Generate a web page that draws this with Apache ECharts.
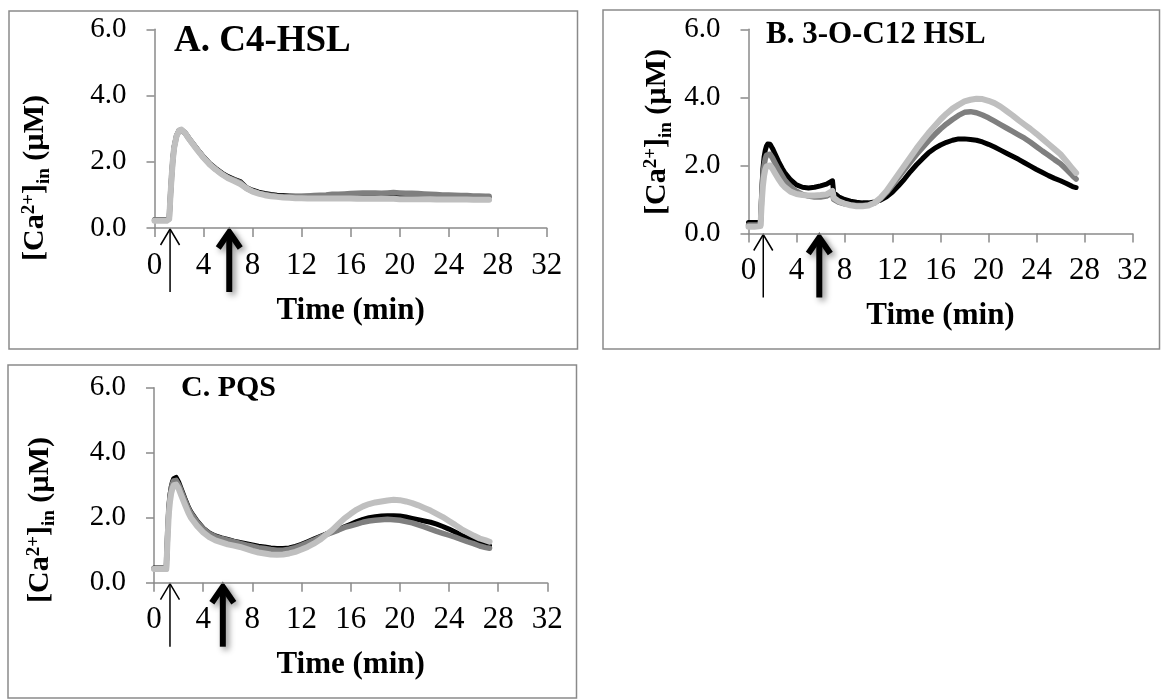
<!DOCTYPE html>
<html>
<head>
<meta charset="utf-8">
<script src="https://cdn.jsdelivr.net/npm/echarts@6/dist/echarts.min.js"></script>
<style>
  html, body { margin: 0; padding: 0; background: #ffffff; }
  #chart { width: 1161px; height: 700px; }
</style>
</head>
<body>
<div id="chart"></div>
<script>
// Sampling times (min) shared by every trace
const time = [0, 0.5, 1.0, 1.1, 1.2, 1.3, 1.4, 1.5, 1.6, 1.8,
  2.0, 2.2, 2.5, 2.8, 3.0, 3.5, 4.0, 4.5, 5.0, 5.5,
  6.0, 6.5, 7.0, 7.1, 7.5, 8.0, 8.5, 9.0, 9.5, 10,
  10.5, 11, 11.5, 12, 12.5, 13, 13.5, 14, 14.5, 15,
  15.5, 16, 16.5, 17, 17.5, 18, 18.5, 19, 19.5, 20,
  20.5, 21, 21.5, 22, 22.5, 23, 23.5, 24, 24.5, 25,
  25.5, 26, 26.5, 27, 27.3];

// A. C4-HSL  — [Ca2+]in (µM)
const c4Black = [0.25, 0.25, 0.25, 0.25, 0.30, 1.00, 1.60, 2.10, 2.45, 2.80,
  2.95, 2.97, 2.88, 2.72, 2.62, 2.38, 2.15, 1.95, 1.80, 1.66,
  1.55, 1.47, 1.40, 1.35, 1.22, 1.14, 1.08, 1.04, 1.01, 0.99,
  0.98, 0.97, 0.96, 0.96, 0.96, 0.96, 0.96, 0.96, 0.97, 0.97,
  0.97, 0.98, 0.98, 0.98, 0.99, 0.98, 0.98, 0.98, 0.99, 0.98,
  0.98, 0.97, 0.97, 0.96, 0.96, 0.95, 0.95, 0.95, 0.94, 0.94,
  0.94, 0.93, 0.93, 0.93, 0.93];
const c4Dark = [0.24, 0.24, 0.24, 0.24, 0.28, 0.98, 1.58, 2.08, 2.43, 2.78,
  2.93, 2.95, 2.86, 2.70, 2.60, 2.36, 2.13, 1.93, 1.77, 1.63,
  1.52, 1.45, 1.37, 1.33, 1.20, 1.11, 1.05, 1.01, 0.98, 0.96,
  0.95, 0.95, 0.95, 0.95, 0.97, 0.98, 0.99, 1.00, 1.02, 1.02,
  1.03, 1.04, 1.05, 1.06, 1.06, 1.06, 1.05, 1.06, 1.07, 1.06,
  1.05, 1.05, 1.04, 1.03, 1.02, 1.01, 1.00, 1.00, 0.99, 0.98,
  0.98, 0.97, 0.97, 0.96, 0.96];
const c4Light = [0.22, 0.22, 0.22, 0.22, 0.27, 0.97, 1.57, 2.07, 2.42, 2.78,
  2.94, 2.97, 2.87, 2.70, 2.60, 2.35, 2.12, 1.92, 1.76, 1.62,
  1.50, 1.42, 1.33, 1.30, 1.20, 1.10, 1.04, 0.99, 0.96, 0.94,
  0.92, 0.91, 0.90, 0.90, 0.89, 0.89, 0.89, 0.89, 0.89, 0.89,
  0.89, 0.89, 0.88, 0.88, 0.88, 0.88, 0.88, 0.88, 0.88, 0.87,
  0.87, 0.87, 0.87, 0.87, 0.87, 0.86, 0.86, 0.86, 0.86, 0.86,
  0.86, 0.85, 0.85, 0.85, 0.85];

// B. 3-O-C12 HSL
const c12Black = [0.32, 0.32, 0.32, 1.20, 1.90, 2.25, 2.45, 2.57, 2.63, 2.62,
  2.50, 2.35, 2.12, 1.92, 1.80, 1.58, 1.43, 1.36, 1.34, 1.36,
  1.40, 1.45, 1.55, 1.20, 1.08, 1.00, 0.95, 0.92, 0.90, 0.90,
  0.93, 0.98, 1.08, 1.22, 1.40, 1.60, 1.82, 2.02, 2.20, 2.37,
  2.50, 2.60, 2.68, 2.74, 2.78, 2.78, 2.76, 2.74, 2.69, 2.62,
  2.54, 2.45, 2.36, 2.27, 2.18, 2.08, 1.98, 1.88, 1.79, 1.70,
  1.62, 1.55, 1.47, 1.38, 1.35];
const c12Dark = [0.25, 0.25, 0.25, 1.10, 1.70, 2.00, 2.20, 2.30, 2.35, 2.33,
  2.22, 2.08, 1.88, 1.70, 1.58, 1.38, 1.24, 1.15, 1.10, 1.07,
  1.07, 1.10, 1.20, 1.00, 0.92, 0.87, 0.84, 0.82, 0.82, 0.84,
  0.90, 1.02, 1.20, 1.42, 1.65, 1.88, 2.10, 2.32, 2.52, 2.72,
  2.90, 3.07, 3.22, 3.35, 3.47, 3.56, 3.58, 3.55, 3.48, 3.40,
  3.30, 3.20, 3.10, 3.00, 2.90, 2.80, 2.68, 2.55, 2.42, 2.30,
  2.17, 2.05, 1.88, 1.70, 1.60];
const c12Light = [0.20, 0.20, 0.22, 0.90, 1.40, 1.70, 1.88, 1.97, 2.02, 2.00,
  1.90, 1.78, 1.60, 1.45, 1.37, 1.23, 1.16, 1.13, 1.12, 1.12,
  1.13, 1.15, 1.25, 1.05, 0.95, 0.88, 0.83, 0.80, 0.80, 0.82,
  0.90, 1.05, 1.25, 1.50, 1.75, 2.00, 2.25, 2.50, 2.73, 2.95,
  3.15, 3.35, 3.52, 3.67, 3.78, 3.88, 3.93, 3.96, 3.95, 3.90,
  3.83, 3.73, 3.60, 3.47, 3.33, 3.20, 3.07, 2.93, 2.78, 2.63,
  2.48, 2.33, 2.12, 1.90, 1.78];

// C. PQS
const pqsBlack = [0.45, 0.45, 0.45, 1.50, 2.30, 2.70, 2.95, 3.10, 3.20, 3.24,
  3.10, 2.90, 2.60, 2.32, 2.18, 1.90, 1.68, 1.53, 1.44, 1.38,
  1.33, 1.28, 1.24, 1.23, 1.20, 1.16, 1.12, 1.10, 1.07, 1.05,
  1.05, 1.07, 1.12, 1.18, 1.26, 1.34, 1.42, 1.50, 1.56, 1.63,
  1.72, 1.80, 1.88, 1.95, 2.00, 2.03, 2.05, 2.06, 2.06, 2.05,
  2.02, 1.98, 1.94, 1.90, 1.86, 1.80, 1.73, 1.65, 1.56, 1.46,
  1.38, 1.30, 1.22, 1.16, 1.13];
const pqsDark = [0.44, 0.44, 0.44, 1.45, 2.25, 2.65, 2.90, 3.05, 3.13, 3.15,
  3.02, 2.84, 2.55, 2.28, 2.14, 1.87, 1.66, 1.51, 1.42, 1.36,
  1.31, 1.26, 1.21, 1.20, 1.16, 1.12, 1.08, 1.05, 1.02, 1.00,
  1.00, 1.03, 1.08, 1.15, 1.23, 1.31, 1.40, 1.48, 1.55, 1.62,
  1.70, 1.75, 1.80, 1.86, 1.90, 1.92, 1.94, 1.95, 1.94, 1.92,
  1.88, 1.84, 1.78, 1.72, 1.65, 1.58, 1.52, 1.46, 1.40, 1.33,
  1.26, 1.20, 1.13, 1.08, 1.06];
const pqsLight = [0.42, 0.42, 0.42, 1.30, 2.10, 2.50, 2.75, 2.90, 3.00, 3.02,
  2.90, 2.70, 2.42, 2.15, 2.00, 1.75, 1.55, 1.40, 1.30, 1.24,
  1.18, 1.14, 1.10, 1.09, 1.04, 0.98, 0.93, 0.90, 0.87, 0.86,
  0.87, 0.90, 0.95, 1.02, 1.10, 1.20, 1.32, 1.47, 1.62, 1.80,
  1.98, 2.12, 2.25, 2.35, 2.42, 2.47, 2.50, 2.53, 2.55, 2.54,
  2.50, 2.45, 2.38, 2.30, 2.22, 2.12, 2.02, 1.90, 1.78, 1.65,
  1.55, 1.45, 1.36, 1.30, 1.26];

const panelTitles = ['A. C4-HSL', 'B. 3-O-C12 HSL', 'C. PQS'];
const xAxisTitle = 'Time (min)';
const xRange = [0, 32, 4];   // min, max, step
const yRange = [0, 6, 2];
// Addition times marked by arrows under each time axis (min)
const thinArrowTime = [1.27, 1.23, 1.30];
const thickArrowTime = [6.1, 5.9, 5.6];

const panels = [
  [c4Black, c4Dark, c4Light],
  [c12Black, c12Dark, c12Light],
  [pqsBlack, pqsDark, pqsLight]
];

const SERIF = '"Liberation Serif", "Times New Roman", Times, serif';
const AXIS_GREY = '#8a8a8a';
const traceColors = ['#000000', '#7f7f7f', '#bfbfbf'];
const traceWidths = [5, 5.5, 6];

// plot areas (px)
const gridBoxes = [
  { left: 154.5, top: 29.3, width: 392.2, height: 198.7 },
  { left: 748.5, top: 29.3, width: 384, height: 204.2 },
  { left: 154, top: 387.7, width: 393.3, height: 195 }
];
// frames around each panel
const frames = [
  { x: 9, y: 11, width: 568.5, height: 338 },
  { x: 603, y: 10, width: 556.5, height: 339 },
  { x: 8, y: 365, width: 568.5, height: 333 }
];
const titlePos = [
  { x: 174, y: 41, size: 37 },
  { x: 766, y: 35, size: 31 },
  { x: 181, y: 388, size: 30 }
];
const yTitlePos = [
  { x: 35, y: 178 },
  { x: 657, y: 132 },
  { x: 40, y: 520 }
];

const chart = echarts.init(document.getElementById('chart'), null, { renderer: 'canvas' });

const option = {
  animation: false,
  backgroundColor: '#ffffff',
  grid: gridBoxes.map(g => Object.assign({ containLabel: false, outerBoundsMode: 'none' }, g)),
  xAxis: gridBoxes.map((g, i) => ({
    type: 'value', gridIndex: i,
    min: xRange[0], max: xRange[1], interval: xRange[2],
    axisLine: { show: true, onZero: false, lineStyle: { color: AXIS_GREY, width: 1.5 } },
    axisTick: { show: true, inside: false, length: 9, lineStyle: { color: AXIS_GREY, width: 1.5 } },
    splitLine: { show: false },
    axisLabel: { fontFamily: SERIF, fontSize: 31, color: '#000', margin: 22 },
    name: xAxisTitle, nameLocation: 'middle', nameGap: 67,
    nameTextStyle: { fontFamily: SERIF, fontSize: 31, fontWeight: 'bold', color: '#000' }
  })),
  yAxis: gridBoxes.map((g, i) => ({
    type: 'value', gridIndex: i,
    min: yRange[0], max: yRange[1], interval: yRange[2],
    axisLine: { show: true, lineStyle: { color: AXIS_GREY, width: 1.5 } },
    axisTick: { show: true, inside: false, length: 8, lineStyle: { color: AXIS_GREY, width: 1.5 } },
    splitLine: { show: false },
    axisLabel: { fontFamily: SERIF, fontSize: 29, color: '#000', margin: 28,
      formatter: v => v.toFixed(1) }
  })),
  series: []
};

panels.forEach((traces, p) => {
  traces.forEach((ys, k) => {
    option.series.push({
      type: 'line', xAxisIndex: p, yAxisIndex: p,
      data: time.map((t, j) => [t, ys[j]]),
      showSymbol: false, symbol: 'none', silent: true,
      lineStyle: { color: traceColors[k], width: traceWidths[k], cap: 'round', join: 'round' },
      z: 2 + k
    });
  });
});

chart.setOption(option);

// frames, titles, y-axis titles and arrows
const graphics = [];
frames.forEach(f => graphics.push({
  type: 'rect', shape: f, silent: true, z: 0,
  style: { fill: null, stroke: AXIS_GREY, lineWidth: 1.5 }
}));
titlePos.forEach((t, i) => graphics.push({
  type: 'text', x: t.x, y: t.y, silent: true, z: 10,
  style: { text: panelTitles[i], fontFamily: SERIF, fontWeight: 'bold', fontSize: t.size,
    fill: '#000', align: 'left', verticalAlign: 'middle' }
}));
yTitlePos.forEach(t => graphics.push({
  type: 'text', x: t.x, y: t.y, rotation: Math.PI / 2, silent: true, z: 10,
  style: {
    text: '{b|[Ca}{sup|2+}{b|]}{sub|in}{b| (µM)}',
    align: 'center', verticalAlign: 'middle',
    rich: {
      b: { fontFamily: SERIF, fontWeight: 'bold', fontSize: 30, fill: '#000', lineHeight: 40, verticalAlign: 'middle' },
      sup: { fontFamily: SERIF, fontWeight: 'bold', fontSize: 19, fill: '#000', lineHeight: 19,
        verticalAlign: 'top', padding: [5, 0, 0, 0] },
      sub: { fontFamily: SERIF, fontWeight: 'bold', fontSize: 19, fill: '#000', lineHeight: 19,
        verticalAlign: 'bottom', padding: [0, 0, 1, 0] }
    }
  }
}));

panels.forEach((_, p) => {
  const thin = chart.convertToPixel({ gridIndex: p }, [thinArrowTime[p], 0]);
  const thick = chart.convertToPixel({ gridIndex: p }, [thickArrowTime[p], 0]);
  const tx = thin[0], ty = thin[1];
  graphics.push({
    type: 'group', silent: true, z: 20,
    children: [
      { type: 'line', shape: { x1: tx, y1: ty + 1, x2: tx, y2: ty + 64 }, style: { stroke: '#000', lineWidth: 1.5 } },
      { type: 'polyline', shape: { points: [[tx - 9.5, ty + 17], [tx, ty + 1], [tx + 9.5, ty + 17]] },
        style: { stroke: '#000', lineWidth: 1.5, fill: null } }
    ]
  });
  const kx = thick[0], ky = thick[1];
  const shadow = { shadowBlur: 6, shadowOffsetX: 3, shadowOffsetY: 3, shadowColor: 'rgba(0,0,0,0.45)' };
  graphics.push({
    type: 'group', silent: true, z: 20,
    children: [
      { type: 'line', shape: { x1: kx, y1: ky + 5, x2: kx, y2: ky + 64 },
        style: Object.assign({ stroke: '#000', lineWidth: 6 }, shadow) },
      { type: 'polyline', shape: { points: [[kx - 11, ky + 20], [kx, ky + 4], [kx + 11, ky + 20]] },
        style: Object.assign({ stroke: '#000', lineWidth: 6, fill: null, lineJoin: 'miter' }, shadow) }
    ]
  });
});

chart.setOption({ graphic: graphics });
</script>
</body>
</html>
